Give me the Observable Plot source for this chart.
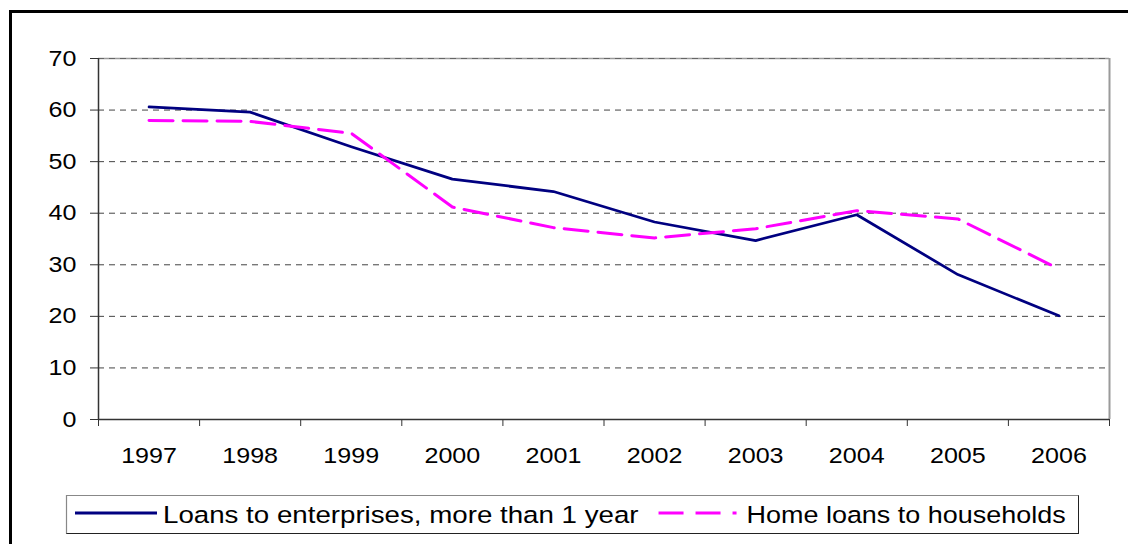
<!DOCTYPE html>
<html>
<head>
<meta charset="utf-8">
<script src="https://cdn.jsdelivr.net/npm/d3@7"></script>
<script src="https://cdn.jsdelivr.net/npm/@observablehq/plot@0.6"></script>
<style>
html, body { margin: 0; padding: 0; background: #fff; width: 1128px; height: 544px; overflow: hidden; }
#wrap { position: relative; width: 1128px; height: 544px; overflow: hidden; font-family: "Liberation Sans", Arial, sans-serif; background: #fff; }
#chart { position: absolute; left: 0; top: 0; }
#legend { position: absolute; left: 0; top: 470px; }
#frame { position: absolute; left: 9px; top: 10px; width: 1400px; height: 800px; border-left: 3px solid #000; border-top: 3px solid #000; pointer-events: none; }
</style>
</head>
<body>
<div id="wrap">
  <div id="chart"></div>
  <svg id="legend" width="1128" height="74"></svg>
  <div id="frame"></div>
</div>
<script>
// ---- data ----
const years = [1997, 1998, 1999, 2000, 2001, 2002, 2003, 2004, 2005, 2006];
const enterpriseLoans = [60.6, 59.6, 52.9, 46.6, 44.2, 38.3, 34.7, 39.7, 28.1, 20.1];
const homeLoans = [58.0, 57.8, 55.5, 41.2, 37.2, 35.2, 37.0, 40.5, 38.9, 29.2];
const yTicks = [0, 10, 20, 30, 40, 50, 60, 70];
const seriesNames = ["Loans to enterprises, more than 1 year", "Home loans to households"];
const seriesColors = ["#000080", "#ff00ff"];
const seriesDash = [null, "24,10"];

const font = '"Liberation Sans", Arial, sans-serif';
const stretchK = 1.14;

const rows = years.flatMap((yr, i) => [
  {year: yr, value: enterpriseLoans[i], series: seriesNames[0]},
  {year: yr, value: homeLoans[i], series: seriesNames[1]}
]);
const edges = d3.range(years.length + 1).map(i => years[0] - 0.5 + i);

const plot = Plot.plot({
  width: 1128,
  height: 470,
  marginLeft: 98,
  marginRight: 19,
  marginTop: 58,
  marginBottom: 51,
  style: {fontFamily: font, fontSize: "22px", color: "#000", background: "transparent", overflow: "visible"},
  x: {type: "linear", domain: [edges[0], edges[edges.length - 1]]},
  y: {domain: [0, 70]},
  marks: [
    Plot.ruleY(yTicks.filter(v => v > 0 && v < 70), {stroke: "#444", strokeWidth: 1, strokeDasharray: "6,5"}),
    Plot.ruleY([70], {stroke: "#9a9a9a", strokeWidth: 1.5}),
    Plot.ruleY([70], {stroke: "#666", strokeWidth: 1, strokeDasharray: "6,5"}),
    Plot.ruleX([edges[edges.length - 1]], {stroke: "#9a9a9a", strokeWidth: 2}),
    Plot.axisY({ticks: yTicks, tickSize: 8, tickPadding: 14, label: null, stroke: "#333", fontSize: 22, fill: "#000"}),
    Plot.ruleX([edges[0]], {stroke: "#333", strokeWidth: 1.5}),
    Plot.axisX({ticks: edges, tickSize: 7, tickFormat: () => "", label: null, stroke: "#333"}),
    Plot.axisX({ticks: years, tickSize: 0, tickPadding: 28, tickFormat: d => String(d), label: null, fontSize: 22, fill: "#000"}),
    Plot.ruleY([0], {stroke: "#333", strokeWidth: 1.5}),
    Plot.line(rows.filter(d => d.series === seriesNames[0]), {x: "year", y: "value", stroke: seriesColors[0], strokeWidth: 2.75}),
    Plot.line(rows.filter(d => d.series === seriesNames[1]), {x: "year", y: "value", stroke: seriesColors[1], strokeWidth: 3, strokeDasharray: seriesDash[1]})
  ]
});
document.getElementById("chart").appendChild(plot);

function stretch(root, k) {
  root.querySelectorAll("text").forEach(t => {
    if (!t.textContent) return;
    const L = t.getComputedTextLength();
    if (L > 0) {
      t.setAttribute("textLength", (L * k).toFixed(2));
      t.setAttribute("lengthAdjust", "spacingAndGlyphs");
    }
  });
}
stretch(plot, stretchK);

// ---- legend ----
const lg = d3.select("#legend");
lg.append("rect")
  .attr("x", 66.5).attr("y", 25.5).attr("width", 1012).attr("height", 38)
  .attr("fill", "#fff").attr("stroke", "#222").attr("stroke-width", 1);
lg.append("path").attr("d", "M66.5,63.5V25.5H1078.5").attr("fill", "none").attr("stroke", "#888").attr("stroke-width", 1.2);

const legendY = 43;
const legendK = [1.13, 1.1];
const swatchLen = [82, 78];
const swatchGap = [6, 10];
let cx = 75;
seriesNames.forEach((name, i) => {
  lg.append("line")
    .attr("x1", cx).attr("x2", cx + swatchLen[i])
    .attr("y1", legendY).attr("y2", legendY)
    .attr("stroke", seriesColors[i]).attr("stroke-width", 3)
    .attr("stroke-dasharray", i === 0 ? null : "25,12");
  cx += swatchLen[i] + swatchGap[i];
  const t = lg.append("text")
    .attr("x", cx).attr("y", 53)
    .attr("font-family", font).attr("font-size", 24.5).attr("fill", "#000")
    .text(name);
  const L = t.node().getComputedTextLength() * legendK[i];
  t.attr("textLength", L.toFixed(2)).attr("lengthAdjust", "spacingAndGlyphs");
  cx += L + 20;
});
</script>
</body>
</html>
